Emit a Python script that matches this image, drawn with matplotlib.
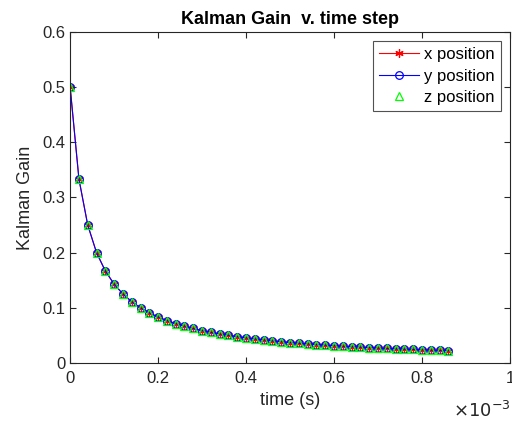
import matplotlib
matplotlib.use("Agg")
import matplotlib.pyplot as plt

plt.rcParams['font.family'] = ['Liberation Sans', 'DejaVu Sans']

time_ms = [0.00, 0.02, 0.04, 0.06, 0.08, 0.10, 0.12, 0.14, 0.16, 0.18,
           0.20, 0.22, 0.24, 0.26, 0.28, 0.30, 0.32, 0.34, 0.36, 0.38,
           0.40, 0.42, 0.44, 0.46, 0.48, 0.50, 0.52, 0.54, 0.56, 0.58,
           0.60, 0.62, 0.64, 0.66, 0.68, 0.70, 0.72, 0.74, 0.76, 0.78,
           0.80, 0.82, 0.84, 0.86]
gain = [0.5, 0.3333, 0.25, 0.2, 0.1667, 0.1429, 0.125, 0.1111, 0.1, 0.0909,
        0.0833, 0.0769, 0.0714, 0.0667, 0.0625, 0.0588, 0.0556, 0.0526, 0.05, 0.0476,
        0.0455, 0.0435, 0.0417, 0.04, 0.0385, 0.037, 0.0357, 0.0345, 0.0333, 0.0323,
        0.0313, 0.0303, 0.0294, 0.0286, 0.0278, 0.027, 0.0263, 0.0256, 0.025, 0.0244,
        0.0238, 0.0233, 0.0227, 0.0222]
gain_x = gain
gain_y = gain
gain_z = gain

fig = plt.figure(figsize=(5.12, 4.26), dpi=100)
ax = fig.add_axes([0.137, 0.148, 0.859, 0.777])

ax.plot(time_ms, gain_x, color='red', marker=(6, 2, 0), markersize=6, markeredgewidth=0.9,
        linewidth=0.8, label='x position')
ax.plot(time_ms, gain_y, color='blue', marker='o', markersize=5.5, markerfacecolor='none',
        markeredgewidth=0.9, linewidth=0.8, label='y position')
ax.plot(time_ms, gain_z, color='#00ff00', marker='^', markersize=5.5, markerfacecolor='none',
        markeredgewidth=0.9, linestyle='none', label='z position')

ax.set_xlim(0, 1)
ax.set_ylim(0, 0.6)
ax.set_xticks([0, 0.2, 0.4, 0.6, 0.8, 1])
ax.set_xticklabels(['0', '0.2', '0.4', '0.6', '0.8', '1'])
ax.set_yticks([0, 0.1, 0.2, 0.3, 0.4, 0.5, 0.6])
ax.set_yticklabels(['0', '0.1', '0.2', '0.3', '0.4', '0.5', '0.6'])

axc = '#262626'
for s in ax.spines.values():
    s.set_color(axc)
    s.set_linewidth(0.8)
ax.tick_params(direction='in', length=4, colors=axc, labelsize=12, top=True, right=True, width=0.8)
ax.tick_params(axis='x', pad=6)

ax.set_xlabel('time (s)', fontsize=13, color=axc, labelpad=4)
ax.set_ylabel('Kalman Gain', fontsize=13, color=axc, labelpad=6)
ax.set_title('Kalman Gain  v. time step', fontsize=13, fontweight='bold', color='black', pad=6)

fig.text(0.997, 0.012, r'$\times10^{-3}$', ha='right', va='bottom', fontsize=13, color=axc,
         fontfamily='Liberation Sans')

leg = ax.legend(loc='upper right', fontsize=12, frameon=True, fancybox=False,
                edgecolor=axc, borderpad=0.35, labelspacing=0.4, handlelength=2.4,
                handletextpad=0.3, borderaxespad=0.55)
leg.get_frame().set_linewidth(0.8)

fig.savefig('out.png', dpi=100)
